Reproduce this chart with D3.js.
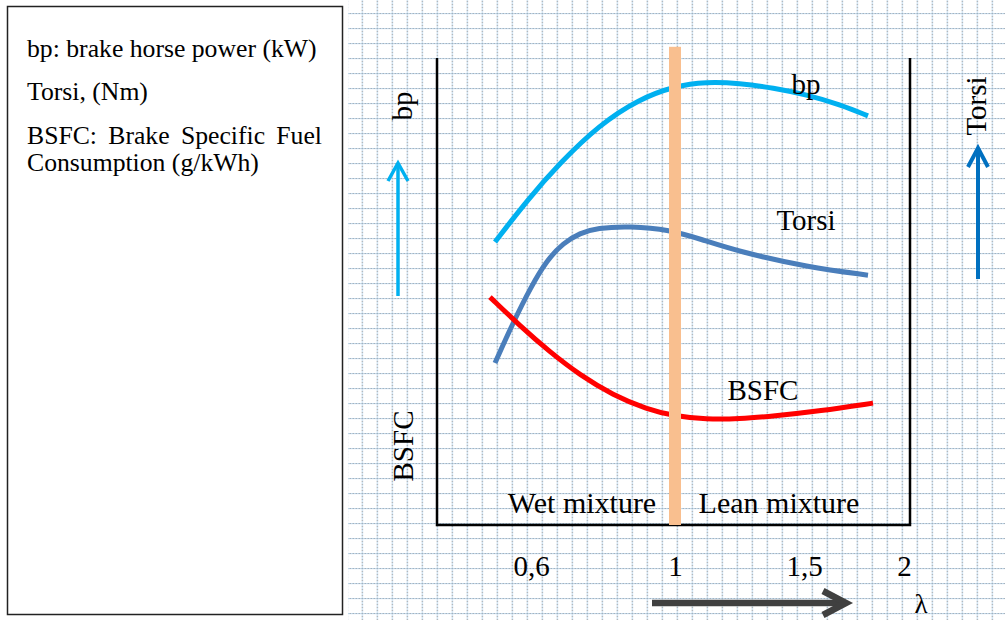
<!DOCTYPE html>
<html>
<head>
<meta charset="utf-8">
<script src="https://cdn.jsdelivr.net/npm/d3@7/dist/d3.min.js"></script>
<style>
  html, body { margin: 0; padding: 0; background: #fff; }
  svg { display: block; }
  text { font-family: "Liberation Serif", "Times New Roman", "DejaVu Serif", serif; fill: #000; }
</style>
</head>
<body>
<script>
// ---------------- DATA ----------------
const lambdaTicks = [0.6, 1, 1.5, 2];
const tickLabels = ["0,6", "1", "1,5", "2"];

const bpLambda  = [0.50, 0.59, 0.68, 0.79, 0.90, 1.00, 1.12, 1.25, 1.38, 1.52, 1.68, 1.82];
const bpValues  = [60.6, 69.6, 77.5, 85.7, 91.2, 94.0, 94.9, 94.6, 93.6, 92.1, 90.0, 87.6];

const torsiLambda = [0.50, 0.55, 0.60, 0.644, 0.69, 0.736, 0.783, 0.875, 0.986, 1.10, 1.25, 1.52, 1.82];
const torsiValues = [34.7, 43.3, 51.0, 56.7, 60.4, 62.5, 63.6, 64.0, 63.2, 61.2, 58.5, 55.2, 53.5];

const bsfcLambda = [0.486, 0.57, 0.653, 0.736, 0.828, 0.922, 1.00, 1.12, 1.25, 1.38, 1.58, 1.845];
const bsfcValues = [48.8, 42.6, 37.0, 32.1, 27.8, 24.8, 23.3, 22.6, 22.7, 23.3, 24.4, 26.1];

const stoichLambda = 1;          // lambda = 1 marker
const stoichTop = 102.4;         // top of marker bar in value units

const legendLines = ["bp: brake horse power (kW)", "Torsi, (Nm)"];
const legendJustified = ["BSFC:", "Brake", "Specific", "Fuel"];
const legendLast = "Consumption (g/kWh)";

// ---------------- LAYOUT ----------------
const W = 1005, H = 620;
const plot = { left: 437, right: 910, top: 58, bottom: 525 };

const x = d3.scaleLinear().domain(lambdaTicks).range([531, 675, 804, 904]);
const y = d3.scaleLinear().domain([0, 100]).range([plot.bottom, plot.top]);

const svg = d3.select("body").append("svg").attr("width", W).attr("height", H);

// grid paper pattern
const defs = svg.append("defs");
const pat = defs.append("pattern").attr("id", "grid")
  .attr("patternUnits", "userSpaceOnUse")
  .attr("width", 15).attr("height", 15)
  .attr("x", 1.7).attr("y", 13);
pat.append("rect").attr("width", 15).attr("height", 15).attr("fill", "#fff");
pat.append("line").attr("x1", 0.5).attr("x2", 0.5).attr("y1", 0).attr("y2", 15)
  .attr("stroke", "#c3dbee").attr("stroke-width", 1.3);
pat.append("line").attr("x1", 0).attr("x2", 15).attr("y1", 0.5).attr("y2", 0.5)
  .attr("stroke", "#c3dbee").attr("stroke-width", 1.3);
pat.append("line").attr("x1", 0.5).attr("x2", 0.5).attr("y1", 0).attr("y2", 15)
  .attr("stroke", "#9aa1a8").attr("stroke-width", 1.2).attr("stroke-dasharray", "1,2");
pat.append("line").attr("x1", 0).attr("x2", 15).attr("y1", 0.5).attr("y2", 0.5)
  .attr("stroke", "#9aa1a8").attr("stroke-width", 1.2).attr("stroke-dasharray", "1,2");

svg.append("rect").attr("width", W).attr("height", H).attr("fill", "#fff");
svg.append("rect").attr("x", 348).attr("y", 0).attr("width", W - 348).attr("height", H)
  .attr("fill", "url(#grid)");

// legend box
svg.append("rect").attr("x", 7.5).attr("y", 6.5).attr("width", 335).attr("height", 608)
  .attr("fill", "#fff").attr("stroke", "#222").attr("stroke-width", 1.5);
const lg = svg.append("g").style("font-size", "25.7px");
lg.append("text").attr("x", 27).attr("y", 57).text(legendLines[0]);
lg.append("text").attr("x", 27).attr("y", 100).text(legendLines[1]);
// justified line
const jl = 27, jr = 322;
const words = lg.selectAll("text.jw").data(legendJustified).join("text")
  .attr("class", "jw").attr("y", 144).text(d => d);
const widths = [];
words.each(function () { widths.push(this.getComputedTextLength()); });
const gap = (jr - jl - d3.sum(widths)) / (widths.length - 1);
let cx = jl;
words.each(function (d, i) { d3.select(this).attr("x", cx); cx += widths[i] + gap; });
lg.append("text").attr("x", 27).attr("y", 171).text(legendLast);

// frame
svg.append("path")
  .attr("d", `M${plot.left},${plot.top}V${plot.bottom}H${plot.right}V${plot.top}`)
  .attr("fill", "none").attr("stroke", "#000").attr("stroke-width", 2.5);

// curves
const line = d3.line().x(d => x(d[0])).y(d => y(d[1])).curve(d3.curveBasis);
const series = [
  { lam: bpLambda, val: bpValues, color: "#00b0f0" },
  { lam: torsiLambda, val: torsiValues, color: "#4a7ebb" },
  { lam: bsfcLambda, val: bsfcValues, color: "#ff0000" }
];
svg.append("g").selectAll("path").data(series).join("path")
  .attr("d", s => line(s.lam.map((l, i) => [l, s.val[i]])))
  .attr("fill", "none").attr("stroke", s => s.color).attr("stroke-width", 5);

// lambda = 1 bar
svg.append("rect")
  .attr("x", x(stoichLambda) - 6).attr("width", 12)
  .attr("y", y(stoichTop)).attr("height", y(0) - y(stoichTop))
  .attr("fill", "#f9bf8f");

// axis tick labels
const axis = d3.axisBottom(x).tickValues(lambdaTicks).tickSize(0)
  .tickFormat((d, i) => tickLabels[i]);
const ag = svg.append("g").attr("transform", `translate(0,${plot.bottom})`).call(axis);
ag.select(".domain").remove();
ag.selectAll("text").attr("y", 51).attr("dy", 0)
  .style("font-family", "'Liberation Serif','Times New Roman',serif")
  .style("font-size", "29px").attr("fill", "#000");

// in-plot labels
const lab = svg.append("g").style("font-size", "29px").attr("text-anchor", "middle");
lab.append("text").attr("x", 806).attr("y", 94).text("bp");
lab.append("text").attr("x", 806).attr("y", 230).text("Torsi");
lab.append("text").attr("x", 763).attr("y", 400).text("BSFC");
lab.append("text").attr("x", 582).attr("y", 513).style("font-size", "30px").text("Wet mixture");
lab.append("text").attr("x", 779).attr("y", 513).style("font-size", "30px").text("Lean mixture");
lab.append("text").attr("x", 921).attr("y", 613).style("font-size", "27px").text("λ");

// rotated side labels
lab.append("text").attr("transform", "translate(412,106) rotate(-90)").text("bp");
lab.append("text").attr("transform", "translate(413,446) rotate(-90)").text("BSFC");
lab.append("text").attr("transform", "translate(986,106) rotate(-90)").text("Torsi");

// arrows
function arrow(x1, y1, x2, y2, back, half, color, w) {
  const ang = Math.atan2(y2 - y1, x2 - x1);
  const bx = x2 - back * Math.cos(ang), by = y2 - back * Math.sin(ang);
  const px = -Math.sin(ang) * half, py = Math.cos(ang) * half;
  const g = svg.append("g").attr("fill", "none").attr("stroke", color).attr("stroke-width", w);
  g.append("path").attr("d", `M${x1},${y1}L${x2 - 1.5 * Math.cos(ang)},${y2 - 1.5 * Math.sin(ang)}`);
  g.append("path").attr("d", `M${bx + px},${by + py}L${x2},${y2}L${bx - px},${by - py}`)
    .attr("stroke-linejoin", "miter");
}
arrow(398, 296, 398, 163, 18, 10, "#00b0f0", 3.5);
arrow(978, 279, 978, 148, 19, 10, "#0070c0", 4);
arrow(652, 603, 846, 603, 23, 12, "#404040", 6.5);
</script>
</body>
</html>
